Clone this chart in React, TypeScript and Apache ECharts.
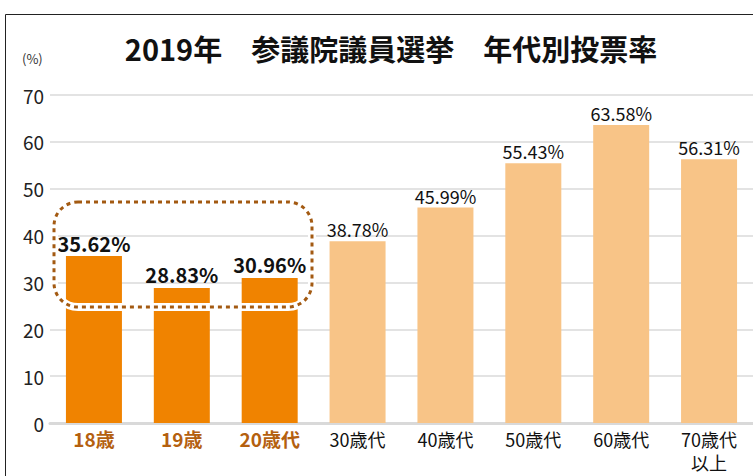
import React, { useEffect, useRef } from "react";
import * as echarts from "echarts";

const categories = ["18歳", "19歳", "20歳代", "30歳代", "40歳代", "50歳代", "60歳代", "70歳代\n以上"];
const turnout = [35.62, 28.83, 30.96, 38.78, 45.99, 55.43, 63.58, 56.31];
const highlighted = [true, true, true, false, false, false, false, false];
const yTicks = { min: 0, max: 70, interval: 10 };
const titleText = "2019年　参議院議員選挙　年代別投票率";

const FONT = "'Noto Sans CJK JP', 'Noto Sans', sans-serif";

export default function App() {
  const ref = useRef<HTMLDivElement>(null);
  useEffect(() => {
    if (!ref.current) return;
    const chart = echarts.init(ref.current, null, { renderer: "svg" });
    chart.setOption({
      animation: false,
      backgroundColor: "#fff",
      textStyle: { fontFamily: FONT },
      title: {
        text: titleText,
        left: 386,
        textAlign: "center",
        top: 28,
        textStyle: { fontSize: 29, fontWeight: "bold", color: "#111", fontFamily: FONT },
      },
      grid: { left: 50, width: 706, top: 95, bottom: 53, containLabel: false },
      xAxis: {
        type: "category",
        data: categories,
        axisTick: { show: false },
        axisLine: { lineStyle: { color: "#d9d9d9", width: 3 } },
        axisLabel: {
          interval: 0,
          margin: 4,
          fontSize: 18,
          lineHeight: 23,
          fontFamily: FONT,
          color: "#111",
          formatter: (v: string) => {
            const i = categories.indexOf(v);
            const tag = i >= 0 && highlighted[i] ? "h" : "n";
            return v.split("\n").map((line) => `{${tag}|${line}}`).join("\n");
          },
          rich: {
            h: { fontSize: 19, lineHeight: 23, fontWeight: "bold", color: "#b4600f", fontFamily: FONT },
            n: { fontSize: 18, lineHeight: 23, color: "#111", fontFamily: FONT },
          },
        },
      },
      yAxis: {
        type: "value",
        min: yTicks.min,
        max: yTicks.max,
        interval: yTicks.interval,
        axisLine: { show: false },
        axisTick: { show: false },
        splitLine: { lineStyle: { color: "#e3e3e3", width: 2 } },
        axisLabel: { fontSize: 19, color: "#222", margin: 6, fontFamily: FONT },
      },
      series: [
        {
          type: "bar",
          barWidth: 56,
          data: turnout.map((v, i) => ({
            value: v,
            itemStyle: { color: highlighted[i] ? "#f08300" : "#f8c487" },
            label: highlighted[i]
              ? { fontSize: 20, fontWeight: "bold", color: "#111" }
              : { fontSize: 18, fontWeight: "normal", color: "#111" },
          })),
          label: {
            show: true,
            position: "top",
            distance: 3,
            fontFamily: FONT,
            formatter: (p: any) => `${p.value.toFixed(2)}%`,
          },
        },
      ],
      graphic: [
        {
          type: "text",
          left: 22,
          top: 52,
          style: { text: "(%)", fontSize: 13, fill: "#333", fontFamily: FONT },
        },
        {
          type: "rect",
          shape: { x: 5.5, y: 14.5, width: 800, height: 500 },
          style: { fill: "none", stroke: "#222", lineWidth: 1 },
          silent: true,
        },
        {
          type: "rect",
          shape: { x: 54, y: 202, width: 258, height: 105, r: 24 },
          style: { fill: "none", stroke: "#fff", lineWidth: 8 },
          silent: true,
          z: 100,
        },
        {
          type: "rect",
          shape: { x: 54, y: 202, width: 258, height: 105, r: 24 },
          style: { fill: "none", stroke: "#a35a12", lineWidth: 3, lineDash: [4, 4] },
          silent: true,
          z: 101,
        },
      ],
    });
    return () => chart.dispose();
  }, []);
  return <div ref={ref} style={{ position: "fixed", left: 0, top: 0, width: 753, height: 476 }} />;
}
